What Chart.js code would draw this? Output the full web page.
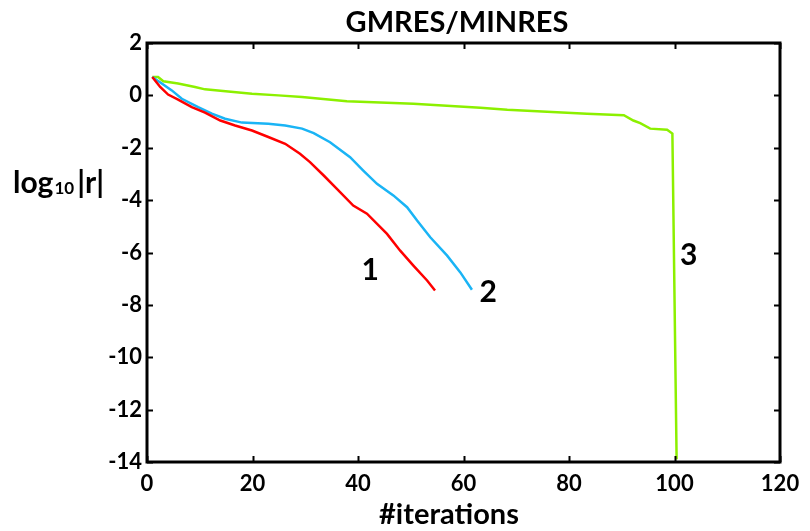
<!DOCTYPE html>
<html>
<head>
<meta charset="utf-8">
<script src="https://cdn.jsdelivr.net/npm/chart.js@4/dist/chart.umd.min.js"></script>
<style>
  html, body { margin: 0; padding: 0; background: #fff; }
  #wrap { width: 810px; height: 531px; }
</style>
</head>
<body>
<div id="wrap"><canvas id="chart" width="810" height="531"></canvas></div>
<script>
// curve 1 (red)
const redIter = [1, 2.5, 4, 5.9, 8.5, 11, 13.9, 16.7, 19.9, 23, 26.2, 29, 30.9, 33.5, 36, 39.1, 41.7, 45.5, 48, 50.5, 53.1, 54.6];
const redRes  = [0.7, 0.32, 0.03, -0.16, -0.45, -0.66, -0.96, -1.15, -1.34, -1.59, -1.85, -2.23, -2.55, -3.06, -3.57, -4.21, -4.52, -5.29, -5.93, -6.5, -7.07, -7.45];

// curve 2 (blue)
const blueIter = [1, 2.8, 4.7, 6.6, 9.7, 12.3, 14.8, 18, 23, 26.2, 29.4, 31.6, 34.7, 38.5, 41, 43.6, 46.7, 49.3, 51.2, 53.7, 56.9, 59.4, 61.6];
const blueRes  = [0.7, 0.45, 0.19, -0.13, -0.45, -0.7, -0.89, -1.04, -1.08, -1.15, -1.27, -1.44, -1.79, -2.36, -2.87, -3.38, -3.82, -4.27, -4.78, -5.42, -6.12, -6.76, -7.42];

// curve 3 (green)
const greenIter = [1, 2.1, 3.1, 5.9, 9.1, 11, 15.4, 19.9, 24.9, 29.4, 37.9, 50.5, 63.2, 68.3, 83.4, 90.4, 92.2, 93.5, 95.4, 98.6, 99.6, 100.4];
const greenRes  = [0.7, 0.7, 0.54, 0.45, 0.32, 0.23, 0.15, 0.06, 0, -0.06, -0.22, -0.32, -0.47, -0.55, -0.7, -0.76, -0.96, -1.06, -1.27, -1.31, -1.46, -13.9];

// curve number labels, placed in data coordinates
const curveNames = ['1', '2', '3'];
const curveNameX = [42.3, 64.7, 102.7];
const curveNameY = [-6.69, -7.53, -6.12];

const xTicks = [0, 20, 40, 60, 80, 100, 120];
const yTicks = [2, 0, -2, -4, -6, -8, -10, -12, -14];

const FONT = 'Lato, "Open Sans", sans-serif';

const toPoints = (xs, ys) => xs.map((x, i) => ({ x: x, y: ys[i] }));

const framePlugin = {
  id: 'frame',
  afterDraw(chart) {
    const { ctx, chartArea: a, scales } = chart;
    const xs = scales.x, ys = scales.y;
    ctx.save();
    ctx.strokeStyle = '#000';
    ctx.lineWidth = 2;
    // inward tick marks on all four sides
    const len = 6;
    ctx.beginPath();
    xTicks.forEach(v => {
      const px = Math.round(xs.getPixelForValue(v)) + 0.5;
      ctx.moveTo(px, a.bottom); ctx.lineTo(px, a.bottom - len);
      ctx.moveTo(px, a.top); ctx.lineTo(px, a.top + len);
    });
    yTicks.forEach(v => {
      const py = Math.round(ys.getPixelForValue(v)) + 0.5;
      ctx.moveTo(a.left, py); ctx.lineTo(a.left + len, py);
      ctx.moveTo(a.right, py); ctx.lineTo(a.right - len, py);
    });
    ctx.stroke();
    // box
    ctx.lineWidth = 3;
    ctx.strokeRect(a.left, a.top, a.right - a.left, a.bottom - a.top);

    ctx.fillStyle = '#000';
    ctx.textAlign = 'center';
    ctx.textBaseline = 'middle';
    // title
    ctx.font = 'bold 29px ' + FONT;
    ctx.fillText('GMRES/MINRES', 457, 23);
    // x title
    ctx.font = 'bold 29px ' + FONT;
    ctx.fillText('#iterations', 449, 515);
    // y title (horizontal, with subscript)
    ctx.textAlign = 'left';
    ctx.font = 'bold 30px ' + FONT;
    ctx.fillText('log', 13, 183);
    let w = ctx.measureText('log').width;
    ctx.font = 'bold 17px ' + FONT;
    ctx.fillText('10', 13 + w + 1, 189);
    const w2 = ctx.measureText('10').width;
    ctx.font = 'bold 30px ' + FONT;
    ctx.fillText('|r|', 13 + w + w2 + 4, 183);
    // curve numbers
    ctx.textAlign = 'center';
    ctx.font = 'bold 30px ' + FONT;
    curveNames.forEach((t, i) => {
      ctx.fillText(t, xs.getPixelForValue(curveNameX[i]), ys.getPixelForValue(curveNameY[i]));
    });
    ctx.restore();
  }
};

new Chart(document.getElementById('chart'), {
  type: 'scatter',
  data: {
    datasets: [
      { data: toPoints(redIter, redRes), borderColor: '#ff0000' },
      { data: toPoints(blueIter, blueRes), borderColor: '#1ab4f5' },
      { data: toPoints(greenIter, greenRes), borderColor: '#8cf000' }
    ].map(d => Object.assign(d, {
      showLine: true, pointRadius: 0, borderWidth: 2.5, tension: 0, fill: false
    }))
  },
  options: {
    responsive: false,
    animation: false,
    layout: { padding: { top: 43, right: 30, left: 0, bottom: 0 } },
    plugins: { legend: { display: false }, tooltip: { enabled: false } },
    scales: {
      x: {
        type: 'linear', min: 0, max: 120,
        afterBuildTicks: s => { s.ticks = xTicks.map(v => ({ value: v })); },
        afterFit: s => { s.height = 69; },
        grid: { display: false, drawTicks: false },
        border: { display: false },
        ticks: { color: '#000', padding: 9, maxRotation: 0, font: { family: FONT, size: 22, weight: 'bold' } }
      },
      y: {
        type: 'linear', min: -14, max: 2,
        afterBuildTicks: s => { s.ticks = yTicks.map(v => ({ value: v })); },
        afterFit: s => { s.width = 147; },
        grid: { display: false, drawTicks: false },
        border: { display: false },
        ticks: { color: '#000', padding: 5, font: { family: FONT, size: 22, weight: 'bold' } }
      }
    }
  },
  plugins: [framePlugin]
});
</script>
</body>
</html>
